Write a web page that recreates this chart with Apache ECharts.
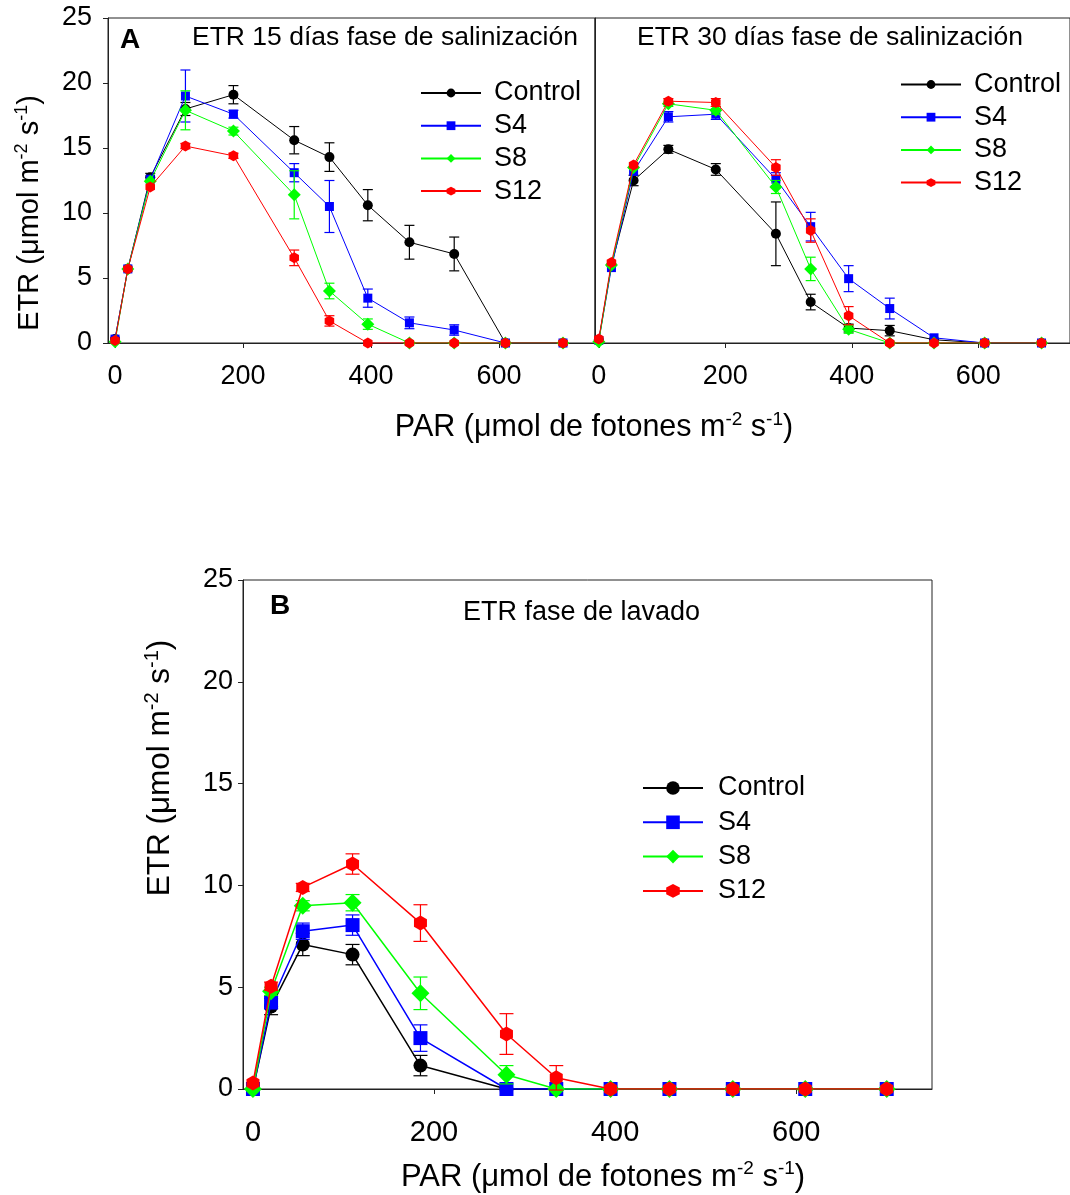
<!DOCTYPE html>
<html><head><meta charset="utf-8">
<script src="https://cdn.jsdelivr.net/npm/echarts@6/dist/echarts.min.js"></script>
<style>html,body{margin:0;padding:0;background:#fff}#c{width:1070px;height:1195px}</style>
</head><body><div id="c"></div><script>
// ---------- DATA ----------
const PAR = [0, 20, 55, 110, 185, 280, 335, 395, 460, 530, 610, 700];
const seriesNames = ['Control', 'S4', 'S8', 'S12'];
const xTickValues = [0, 200, 400, 600];

// Panel A - 15 días fase de salinización
const A15_Control     = [0.3, 5.7, 12.75, 18.0, 19.1, 15.6, 14.3, 10.6, 7.75, 6.85, 0, 0];
const A15_Control_err = [0, 0, 0.3, 0.5, 0.7, 1.05, 1.1, 1.2, 1.3, 1.3, 0, 0];
const A15_S4          = [0.3, 5.7, 12.6, 19.0, 17.6, 13.1, 10.5, 3.45, 1.55, 1.0, 0, 0];
const A15_S4_err      = [0, 0, 0, 2.0, 0.3, 0.7, 2.0, 0.7, 0.45, 0.4, 0, 0];
const A15_S8          = [0.1, 5.7, 12.45, 17.9, 16.3, 11.4, 4.0, 1.45, 0, 0, 0, 0];
const A15_S8_err      = [0, 0, 0, 1.5, 0.3, 1.85, 0.6, 0.4, 0, 0, 0, 0];
const A15_S12         = [0.2, 5.7, 12.0, 15.15, 14.4, 6.55, 1.7, 0, 0, 0, 0, 0];
const A15_S12_err     = [0, 0, 0, 0.2, 0.2, 0.6, 0.4, 0, 0, 0, 0, 0];

// Panel A - 30 días fase de salinización
const A30_Control     = [0.25, 6.0, 12.5, 14.9, 13.35, 8.4, 3.15, 1.15, 0.95, 0.25, 0, 0];
const A30_Control_err = [0, 0, 0.4, 0.3, 0.45, 2.45, 0.6, 0.3, 0.4, 0, 0, 0];
const A30_S4          = [0.2, 5.8, 13.2, 17.4, 17.6, 12.6, 8.95, 4.95, 2.65, 0.4, 0, 0];
const A30_S4_err      = [0, 0, 0, 0.4, 0.4, 0.5, 1.1, 1.0, 0.8, 0, 0, 0];
const A30_S8          = [0.1, 6.0, 13.5, 18.4, 17.9, 12.0, 5.7, 1.05, 0, 0, 0, 0];
const A30_S8_err      = [0, 0, 0, 0.2, 0.3, 0.5, 0.9, 0.3, 0, 0, 0, 0];
const A30_S12         = [0.3, 6.2, 13.7, 18.6, 18.5, 13.5, 8.65, 2.1, 0, 0, 0, 0];
const A30_S12_err     = [0, 0, 0, 0.2, 0.3, 0.6, 0.9, 0.7, 0, 0, 0, 0];

// Panel B - fase de lavado
const B_Control     = [0, 4.05, 7.1, 6.6, 1.15, 0, 0, 0, 0, 0, 0, 0];
const B_Control_err = [0, 0.4, 0.55, 0.5, 0.5, 0, 0, 0, 0, 0, 0, 0];
const B_S4          = [0, 4.25, 7.75, 8.05, 2.5, 0, 0, 0, 0, 0, 0, 0];
const B_S4_err      = [0, 0.3, 0.4, 0.5, 0.65, 0, 0, 0, 0, 0, 0, 0];
const B_S8          = [0, 4.8, 9.0, 9.15, 4.7, 0.7, 0, 0, 0, 0, 0, 0];
const B_S8_err      = [0, 0.2, 0.25, 0.4, 0.8, 0.45, 0, 0, 0, 0, 0, 0];
const B_S12         = [0.3, 5.05, 9.9, 11.05, 8.15, 2.7, 0.55, 0, 0, 0, 0, 0];
const B_S12_err     = [0, 0.2, 0.2, 0.5, 0.9, 1.0, 0.6, 0, 0, 0, 0, 0];

// ---------- STYLE ----------
const FONT = 'Liberation Sans, Arial, Helvetica, sans-serif';
const COLORS = ['#000000', '#0000ff', '#00ff00', '#ff0000'];
const HEX = 'path://M0,-1 L0.866,-0.5 L0.866,0.5 L0,1 L-0.866,0.5 L-0.866,-0.5 Z';
const SYMBOLS = ['circle', 'rect', 'diamond', HEX];
const SIZES_A = [10, 9, 13, 11];
const SIZES_B = [14, 14, 18, 15];

const panels = [
  { vals: [A15_Control, A15_S4, A15_S8, A15_S12], errs: [A15_Control_err, A15_S4_err, A15_S8_err, A15_S12_err], sizes: SIZES_A, lw: 1, cap: 5 },
  { vals: [A30_Control, A30_S4, A30_S8, A30_S12], errs: [A30_Control_err, A30_S4_err, A30_S8_err, A30_S12_err], sizes: SIZES_A, lw: 1, cap: 5 },
  { vals: [B_Control, B_S4, B_S8, B_S12], errs: [B_Control_err, B_S4_err, B_S8_err, B_S12_err], sizes: SIZES_B, lw: 1.5, cap: 7 }
];

function errRender(color, cap) {
  return function (params, api) {
    const x = api.value(0), y = api.value(1), e = api.value(2);
    if (!(e > 0)) return null;
    const p1 = api.coord([x, y + e]), p2 = api.coord([x, y - e]);
    const st = { stroke: color, lineWidth: 1.2 };
    return { type: 'group', children: [
      { type: 'line', shape: { x1: p1[0], y1: p1[1], x2: p2[0], y2: p2[1] }, style: st },
      { type: 'line', shape: { x1: p1[0] - cap, y1: p1[1], x2: p1[0] + cap, y2: p1[1] }, style: st },
      { type: 'line', shape: { x1: p2[0] - cap, y1: p2[1], x2: p2[0] + cap, y2: p2[1] }, style: st }
    ]};
  };
}

const series = [];
panels.forEach((p, pi) => {
  seriesNames.forEach((name, si) => {
    series.push({
      type: 'custom', xAxisIndex: pi, yAxisIndex: pi, z: 3 + si, silent: true,
      renderItem: errRender(COLORS[si], p.cap),
      encode: { x: 0, y: 1 },
      data: PAR.map((x, i) => [x, p.vals[si][i], p.errs[si][i]])
    });
    series.push({
      type: 'line', name: name, xAxisIndex: pi, yAxisIndex: pi, z: 3 + si,
      data: PAR.map((x, i) => [x, p.vals[si][i]]),
      symbol: SYMBOLS[si], symbolSize: p.sizes[si], symbolKeepAspect: true,
      showAllSymbol: true,
      itemStyle: { color: COLORS[si], borderWidth: 0 },
      lineStyle: { color: COLORS[si], width: p.lw },
      emphasis: { disabled: true }, animation: false
    });
  });
});

function xAxis(idx, min, max, fs, margin) {
  return {
    type: 'value', gridIndex: idx, min: min, max: max,
    splitLine: { show: false },
    axisLine: { show: true, onZero: false, lineStyle: { color: '#222', width: 1 } },
    axisTick: { show: true, inside: false, length: 5, customValues: xTickValues, lineStyle: { color: '#222' } },
    axisLabel: { show: true, customValues: xTickValues, fontSize: fs, fontFamily: FONT, color: '#000', margin: margin }
  };
}
function yAxis(idx, showLabels, fs, margin) {
  return {
    type: 'value', gridIndex: idx, min: 0, max: 25, interval: 5,
    splitLine: { show: false },
    axisLine: { show: true, onZero: false, lineStyle: { color: '#222', width: 1 } },
    axisTick: { show: showLabels, inside: false, length: 5, lineStyle: { color: '#222' } },
    axisLabel: { show: showLabels, fontSize: fs, fontFamily: FONT, color: '#000', margin: margin }
  };
}

function legend(left, top, gap, ih, tpad) {
  return {
    left: left, top: top, orient: 'vertical', selectedMode: false, padding: 0,
    data: seriesNames, itemWidth: 60, itemHeight: ih, itemGap: gap,
    textStyle: { fontSize: 27, fontFamily: FONT, color: '#000', lineHeight: 27, padding: [0, 0, 0, tpad] }
  };
}

function richStyles(fs) {
  return {
    a: { fontSize: fs, fontFamily: FONT, color: '#000', lineHeight: fs + 4 },
    s: { fontSize: Math.round(fs * 0.62), fontFamily: FONT, color: '#000', lineHeight: Math.round(fs * 0.7), verticalAlign: 'top' }
  };
}
function richText(x, y, text, fs, rot) {
  return { type: 'text', x: x, y: y, rotation: rot || 0,
    style: { text: text, rich: richStyles(fs), align: 'center', verticalAlign: 'middle' } };
}
function plainText(x, y, text, fs, bold) {
  return { type: 'text', x: x, y: y,
    style: { text: text, fontSize: fs, fontFamily: FONT, fontWeight: bold ? 'bold' : 'normal', fill: '#000', align: 'left', verticalAlign: 'middle' } };
}
const PAR_LABEL = '{a|PAR (μmol de fotones m}{s|-2}{a| s}{s|-1}{a|)}';
const ETR_LABEL = '{a|ETR (μmol m}{s|-2}{a| s}{s|-1}{a|)}';

const option = {
  backgroundColor: '#fff',
  animation: false,
  grid: [
    { left: 108, top: 18, width: 487, height: 325, show: true, borderColor: '#222', borderWidth: 1 },
    { left: 595, top: 18, width: 481, height: 325, show: true, borderColor: '#222', borderWidth: 1 },
    { left: 243, top: 580, width: 689, height: 509, show: true, borderColor: '#222', borderWidth: 1 }
  ],
  xAxis: [xAxis(0, -11, 750, 27, 20), xAxis(1, -6, 745, 27, 20), xAxis(2, -11, 750, 29, 29)],
  yAxis: [yAxis(0, true, 27, 16), yAxis(1, false, 27, 16), yAxis(2, true, 27, 10)],
  legend: [legend(420, 79.5, 5.7, 11, 8), legend(900, 71, 5.7, 11, 8), legend(642, 774.5, 7.3, 17, 10)],
  series: series,
  graphic: [
    plainText(120, 40, 'A', 28, true),
    plainText(192, 38, 'ETR 15 días fase de salinización', 26.5),
    plainText(637, 38, 'ETR 30 días fase de salinización', 26.5),
    plainText(270, 606, 'B', 28, true),
    plainText(463, 613, 'ETR fase de lavado', 27),
    richText(594, 428, PAR_LABEL, 30.5),
    richText(603, 1177, PAR_LABEL, 31),
    richText(30, 213, ETR_LABEL, 29, Math.PI / 2),
    richText(160, 768, ETR_LABEL, 31.5, Math.PI / 2)
  ]
};

const chart = echarts.init(document.getElementById('c'), null, { renderer: 'canvas' });
chart.setOption(option);
</script></body></html>
